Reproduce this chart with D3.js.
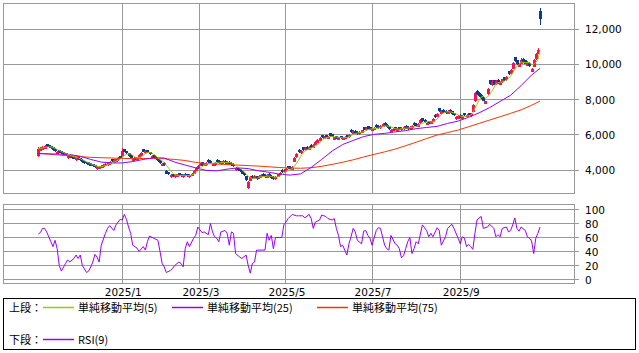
<!DOCTYPE html>
<html lang="ja">
<head>
<meta charset="UTF-8" />
<title>candles</title>
<style>
  body { margin: 0; background: #fff; }
  svg { display: block; font-family: "DejaVu Sans", sans-serif; }
  .jp { font-family: "Noto Sans CJK JP", sans-serif; font-size: 11px; }
</style>
</head>
<body>
<svg width="639" height="353" id="svg"></svg>
<script src="https://cdn.jsdelivr.net/npm/d3@7"></script>
<script>
// daily bars [open, high, low, close], bar 0 = early Nov 2024
const candles = [
  [4800,5280,4750,5200],[5100,5300,5080,5250],[5150,5350,5120,5300],[5200,5420,5180,5380],[5450,5480,5300,5350],
  [5420,5440,5260,5300],[5350,5380,5200,5250],[5300,5320,5100,5150],[5200,5230,5040,5080],[4920,5100,4890,5050],
  [5120,5150,4960,5000],[5060,5080,4900,4950],[5020,5040,4860,4900],[4950,4990,4800,4850],[4680,4840,4650,4800],
  [4880,4900,4700,4750],[4820,4850,4650,4700],[4760,4790,4600,4650],[4560,4740,4530,4700],[4720,4750,4560,4600],
  [4680,4700,4500,4550],[4580,4600,4400,4450],[4520,4540,4350,4400],[4460,4480,4300,4350],[4420,4450,4250,4300],
  [4360,4380,4200,4250],[4320,4340,4150,4200],[4260,4290,4100,4150],[4040,4200,4010,4150],[4080,4250,4050,4200],
  [4120,4300,4100,4250],[4170,4340,4140,4300],[4220,4400,4200,4350],[4280,4450,4250,4400],[4320,4500,4290,4450],
  [4620,4650,4460,4500],[4420,4600,4400,4550],[4470,4650,4440,4600],[4560,4750,4530,4700],[4780,4800,4600,4650],
  [4800,5250,4780,5100],[5180,5220,5000,5050],[5080,5100,4900,4950],[4950,4980,4750,4800],[4830,4860,4650,4700],
  [4540,4700,4500,4650],[4730,4760,4550,4600],[4560,4750,4530,4700],[4700,4900,4680,4850],[4800,5000,4780,4950],
  [5170,5200,5000,5050],[4950,5150,4920,5100],[5130,5160,4950,5000],[5020,5050,4850,4900],[4680,4850,4650,4800],
  [4830,4860,4650,4700],[4720,4750,4550,4600],[4630,4660,4450,4500],[4520,4550,4350,4400],[4240,4400,4200,4350],
  [4420,4450,4250,4300],[3950,3980,3750,3800],[3860,3890,3700,3750],[3600,3750,3570,3700],[3770,3800,3600,3650],
  [3580,3750,3550,3700],[3630,3800,3600,3750],[3820,3850,3650,3700],[3760,3790,3600,3650],[3580,3750,3550,3700],
  [3800,3830,3650,3700],[3760,3790,3600,3650],[3580,3750,3560,3700],[3660,3850,3640,3800],[3800,4000,3780,3950],
  [3950,4150,3920,4100],[4100,4300,4080,4250],[4220,4400,4200,4350],[4430,4460,4250,4300],[4220,4400,4200,4350],
  [4270,4450,4250,4400],[4570,4600,4400,4450],[4520,4550,4350,4400],[4230,4400,4200,4350],[4280,4450,4250,4400],
  [4570,4600,4400,4450],[4530,4560,4350,4400],[4320,4500,4300,4450],[4370,4550,4350,4500],[4530,4560,4350,4400],
  [4330,4500,4300,4450],[4480,4510,4300,4350],[4420,4450,4250,4300],[4340,4370,4150,4200],[3980,4150,3950,4100],
  [4130,4160,3950,4000],[4070,4100,3900,3950],[3950,3980,3750,3800],[3830,3860,3650,3700],[3650,3680,3400,3450],
  [3000,3350,2920,3300],[3400,3650,3380,3600],[3680,3710,3500,3550],[3520,3700,3490,3650],[3640,3670,3450,3500],
  [3520,3700,3490,3650],[3580,3750,3550,3700],[3780,3810,3600,3650],[3720,3750,3550,3600],[3570,3750,3540,3700],
  [3780,3810,3600,3650],[3680,3710,3500,3550],[3620,3650,3450,3500],[3470,3650,3440,3600],[3600,3800,3580,3750],
  [3720,3900,3700,3850],[4020,4050,3850,3900],[3870,4050,3850,4000],[3920,4100,3900,4050],[4220,4250,4050,4100],
  [4170,4200,4000,4050],[4020,4200,4000,4150],[4450,4760,4430,4700],[4720,4950,4700,4900],[5150,5180,4950,5000],
  [4950,5150,4920,5100],[5280,5310,5100,5150],[5110,5300,5080,5250],[5330,5360,5150,5200],[5160,5350,5140,5300],
  [5420,5450,5250,5300],[5270,5450,5250,5400],[5420,5650,5400,5600],[5560,5750,5540,5700],[5660,5850,5640,5800],
  [5980,6010,5800,5850],[5770,5950,5750,5900],[5980,6010,5800,5850],[5770,5950,5750,5900],[6080,6110,5900,5950],
  [6030,6060,5850,5900],[5730,5900,5700,5850],[5930,5960,5750,5800],[5720,5900,5700,5850],[5930,5960,5750,5800],
  [5720,5900,5700,5850],[5770,5950,5750,5900],[5980,6010,5800,5850],[5850,6050,5830,6000],[6280,6310,6100,6150],
  [6070,6250,6050,6200],[6240,6270,6050,6100],[6170,6200,6000,6050],[6020,6200,6000,6150],[6110,6300,6090,6250],
  [6420,6450,6250,6300],[6260,6450,6240,6400],[6480,6510,6300,6350],[6420,6450,6250,6300],[6220,6400,6200,6350],
  [6270,6450,6250,6400],[6580,6610,6400,6450],[6520,6550,6350,6400],[6360,6550,6340,6500],[6460,6650,6440,6600],
  [6680,6710,6500,6550],[6580,6610,6400,6450],[6480,6510,6300,6350],[6180,6350,6150,6300],[6220,6400,6200,6350],
  [6430,6460,6250,6300],[6220,6400,6200,6350],[6420,6450,6250,6300],[6260,6450,6240,6400],[6320,6500,6300,6450],
  [6530,6560,6350,6400],[6470,6500,6300,6350],[6310,6500,6290,6450],[6370,6550,6350,6500],[6680,6710,6500,6550],
  [6620,6650,6450,6500],[6460,6650,6440,6600],[6650,6900,6630,6850],[6930,6960,6750,6800],[6870,6900,6700,6750],
  [6580,6750,6550,6700],[6780,6810,6600,6650],[6610,6800,6590,6750],[6750,6950,6730,6900],[7130,7160,6950,7000],
  [7030,7250,7000,7200],[7500,7530,7300,7350],[7210,7400,7190,7350],[7430,7460,7250,7300],[7380,7410,7200,7250],
  [7210,7400,7190,7350],[7430,7460,7250,7300],[7330,7360,7150,7200],[7230,7260,7050,7100],[6880,7050,6850,7000],
  [6920,7100,6900,7050],[7130,7160,6950,7000],[6920,7100,6900,7050],[7230,7260,7050,7100],[7020,7200,7000,7150],
  [7230,7260,7050,7100],[7060,7250,7040,7200],[7300,7750,7280,7700],[7900,8450,7880,8400],[8500,8550,8250,8300],
  [8380,8410,8150,8200],[8280,8310,8050,8100],[8150,8180,7900,7950],[7760,7950,7740,7900],[8300,8650,8280,8600],
  [9100,9130,8850,8900],[8820,9100,8800,9000],[9100,9130,8850,8900],[8880,9100,8860,9050],[9130,9160,8900,8950],
  [8850,9060,8820,9000],[8990,9200,8970,9150],[9280,9310,9050,9100],[9100,9350,9080,9300],[9620,9650,9400,9450],
  [9460,9750,9440,9700],[9750,10150,9730,10100],[10400,10430,10150,10200],[10250,10280,9950,10000],[9880,10100,9850,10050],
  [10050,10350,10030,10250],[10330,10360,10100,10150],[10230,10260,10000,10050],[9930,10200,9910,10100],[10100,10130,9860,9900],
  [9600,9800,9560,9750],[9850,10300,9830,10250],[10300,10650,10280,10600],[10620,10950,10600,10850],[13050,13200,12250,12600]
];

// moving averages at these bars
const maIdx = [0,5,10,15,20,25,30,35,40,45,50,55,60,65,70,75,80,85,90,95,100,105,110,115,120,
  125,130,135,140,145,150,155,160,165,170,175,180,185,190,195,200,205,210,215,220,225,230,235,239];
const ma25 = [4930,4920,4900,4880,4780,4600,4450,4400,4400,4480,4600,4700,4680,4450,4280,4120,3980,3950,4050,4120,4080,3950,3870,3760,3710,
  3780,4150,4600,5080,5450,5680,5900,6030,6080,6170,6240,6350,6420,6480,6650,6780,7000,7250,7550,7900,8250,8800,9400,9780];
const ma75 = [4950,4900,4850,4800,4760,4720,4700,4680,4660,4650,4650,4650,4640,4600,4540,4430,4370,4340,4310,4280,4250,4220,4180,4140,4110,
  4100,4130,4210,4320,4440,4580,4740,4890,5030,5190,5380,5580,5790,5990,6130,6270,6460,6650,6840,7030,7220,7420,7680,7920];

// RSI(9) points [bar, value]
const rsi = [
  [0,65],[1,67],[2,73],[3,73],[4,68],[6,54],[7,47],[8,56],[9,44],[10,20],[11,12],[13,23],[14,28],[15,25],[17,30],[18,35],
  [19,30],[20,35],[21,20],[23,10],[24,12],[25,18],[26,25],[27,36],[28,32],[29,25],[30,49],[32,66],[33,73],[34,77],[36,70],
  [37,78],[39,86],[40,85],[41,93],[42,86],[43,75],[44,66],[45,49],[47,45],[48,40],[50,47],[51,42],[52,54],[53,62],[55,59],
  [57,56],[58,40],[59,23],[60,18],[61,10],[63,13],[64,16],[65,20],[67,25],[68,23],[69,18],[70,44],[71,54],[72,47],[74,59],
  [75,63],[76,75],[78,67],[79,68],[81,64],[82,80],[83,68],[84,61],[85,59],[86,54],[87,68],[89,70],[90,66],[91,49],[92,68],
  [93,66],[94,37],[96,32],[97,30],[99,35],[100,20],[101,9],[102,23],[103,25],[104,42],[107,42],[108,42],[109,66],[110,56],
  [111,63],[112,44],[113,60],[115,60],[116,60],[117,78],[118,82],[119,87],[121,93],[123,91],[124,91],[126,91],[127,88],
  [129,93],[130,87],[131,73],[132,82],[134,85],[135,92],[137,90],[138,87],[140,85],[141,87],[142,73],[143,63],[144,47],
  [145,49],[146,42],[147,35],[148,51],[149,61],[150,73],[151,68],[152,56],[154,51],[155,69],[156,70],[157,63],[158,59],
  [159,49],[161,70],[162,74],[163,73],[165,49],[166,44],[167,42],[168,63],[170,51],[171,49],[172,44],[173,31],[174,34],
  [175,44],[176,54],[177,60],[178,37],[179,44],[180,54],[181,51],[183,78],[185,70],[186,61],[187,66],[188,61],[190,74],
  [191,70],[192,49],[194,61],[195,73],[197,79],[198,73],[200,59],[201,51],[202,61],[203,59],[204,47],[205,50],[206,47],
  [207,43],[208,66],[209,85],[210,88],[211,90],[212,73],[214,75],[215,79],[217,73],[218,61],[219,64],[220,61],[221,73],
  [223,75],[224,68],[225,70],[226,78],[227,88],[228,73],[229,69],[230,75],[232,70],[233,61],[234,59],[235,55],[236,37],
  [237,59],[238,66],[239,75]
];

// month gridlines (first bar of the month)
const monthLabels = ["2025/1", "2025/3", "2025/5", "2025/7", "2025/9"];
const monthIdx = [40, 77, 118, 159, 201];
const priceTicks = [4000, 6000, 8000, 10000, 12000];
const rsiTicks = [0, 20, 40, 60, 80, 100];

const gridColor = "#999";
const upColor = "#f5144b";
const downColor = "#0b3a93";
const ma5Color = "#99cc00";
const ma25Color = "#9900ff";
const ma75Color = "#ff3300";

const svg = d3.select("#svg");
const left = 3, right = 574;
const top1 = 3, bottom1 = 193;
const top2 = 204, bottom2 = 283;

const x = d3.scaleLinear().domain([-16.8, 255.2]).range([left, right]);
const y = d3.scaleLinear().domain([4000, 12000]).range([170, 29.3]);
const yr = d3.scaleLinear().domain([0, 100]).range([279.5, 209.5]);
const crisp = (v) => Math.floor(v) + 0.5;

// simple moving average (5) from closes
const closes = candles.map((d) => d[3]);
const ma5 = closes.map((c, i) => d3.mean(closes.slice(Math.max(0, i - 4), i + 1)));

// ---------- grids ----------
function grid(top, bottom, yScale, ticks) {
  const g = svg.append("g").attr("stroke", gridColor).attr("stroke-width", 1);
  g.selectAll(".h").data(ticks).join("line")
    .attr("x1", left).attr("x2", right)
    .attr("y1", (d) => crisp(yScale(d))).attr("y2", (d) => crisp(yScale(d)));
  g.selectAll(".t").data(ticks).join("line")
    .attr("x1", right).attr("x2", right + 5)
    .attr("y1", (d) => crisp(yScale(d))).attr("y2", (d) => crisp(yScale(d)));
  g.selectAll(".v").data(monthIdx).join("line")
    .attr("x1", (d) => crisp(x(d))).attr("x2", (d) => crisp(x(d)))
    .attr("y1", top).attr("y2", bottom);
  g.append("rect")
    .attr("x", left + 0.5).attr("y", top + 0.5)
    .attr("width", right - left).attr("height", bottom - top)
    .attr("fill", "none");
}
grid(top1, bottom1, y, priceTicks);
grid(top2, bottom2, yr, rsiTicks);

// ---------- candles ----------
const cg = svg.append("g").attr("shape-rendering", "crispEdges");
cg.selectAll("line").data(candles).join("line")
  .attr("x1", (d, i) => Math.round(x(i)) + 0.5)
  .attr("x2", (d, i) => Math.round(x(i)) + 0.5)
  .attr("y1", (d) => y(d[1])).attr("y2", (d) => y(d[2]))
  .attr("stroke", (d) => (d[3] >= d[0] ? upColor : downColor));
cg.selectAll("rect").data(candles).join("rect")
  .attr("x", (d, i) => Math.round(x(i)) - 1)
  .attr("width", 3)
  .attr("y", (d) => y(Math.max(d[0], d[3])))
  .attr("height", (d) => Math.max(1, Math.abs(y(d[0]) - y(d[3]))))
  .attr("fill", (d) => (d[3] >= d[0] ? upColor : downColor));

// ---------- moving averages ----------
const line = d3.line().x((d) => x(d[0])).y((d) => y(d[1]));
svg.append("path")
  .datum(maIdx.map((i, k) => [i, ma75[k]]))
  .attr("d", line).attr("fill", "none").attr("stroke", ma75Color).attr("stroke-width", 1);
svg.append("path")
  .datum(maIdx.map((i, k) => [i, ma25[k]]))
  .attr("d", line).attr("fill", "none").attr("stroke", ma25Color).attr("stroke-width", 1);
svg.append("path")
  .datum(ma5.map((v, i) => [i, v]))
  .attr("d", line).attr("fill", "none").attr("stroke", ma5Color).attr("stroke-width", 1);

// ---------- RSI ----------
svg.append("path")
  .datum(rsi)
  .attr("d", d3.line().x((d) => x(d[0])).y((d) => yr(d[1])))
  .attr("fill", "none").attr("stroke", ma25Color).attr("stroke-width", 1);

// ---------- labels ----------
svg.append("g").selectAll("text").data(priceTicks).join("text")
  .attr("x", 585).attr("y", (d) => y(d) + 4)
  .attr("font-size", "10.5px").attr("fill", "#000")
  .text((d) => d3.format(",")(d));
svg.append("g").selectAll("text").data(rsiTicks).join("text")
  .attr("x", 585).attr("y", (d) => yr(d) + 4)
  .attr("font-size", "10.5px").attr("fill", "#000")
  .text((d) => d);
svg.append("g").selectAll("text").data(monthIdx).join("text")
  .attr("x", (d) => x(d) + 1).attr("y", 296)
  .attr("text-anchor", "middle")
  .attr("font-size", "10.5px").attr("fill", "#000")
  .text((d, i) => monthLabels[i]);

// ---------- legend ----------
const lg = svg.append("g");
lg.append("rect")
  .attr("x", 3.5).attr("y", 298.5).attr("width", 632).attr("height", 51)
  .attr("fill", "none").attr("stroke", "#000");
const legendRows = [
  { label: "上段：", y: 307.5, items: [
    { text: "単純移動平均(5)", color: ma5Color, x: 43 },
    { text: "単純移動平均(25)", color: ma25Color, x: 172 },
    { text: "単純移動平均(75)", color: ma75Color, x: 317 }] },
  { label: "下段：", y: 339.5, items: [
    { text: "RSI(9)", color: ma25Color, x: 43 }] }
];
legendRows.forEach((row) => {
  lg.append("text").attr("class", "jp").attr("x", 9).attr("y", row.y + 4).text(row.label);
  row.items.forEach((it) => {
    lg.append("line")
      .attr("x1", it.x).attr("x2", it.x + 31)
      .attr("y1", row.y).attr("y2", row.y)
      .attr("stroke", it.color).attr("stroke-width", 1.5);
    lg.append("text").attr("class", "jp")
      .attr("x", it.x + 35).attr("y", row.y + 4).text(it.text);
  });
});
</script>
</body>
</html>
